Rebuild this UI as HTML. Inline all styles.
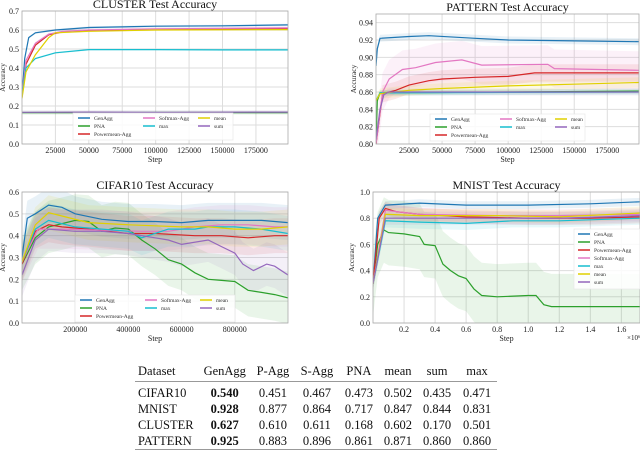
<!DOCTYPE html>
<html><head><meta charset="utf-8"><style>
body{margin:0;width:640px;height:450px;background:#fff;overflow:hidden;font-family:"Liberation Serif",serif}
svg{position:absolute;left:0;top:0;font-family:"Liberation Serif",serif}
svg text{font-family:"Liberation Serif",serif}
table{position:absolute;left:135px;top:362px;border-collapse:collapse;font-size:12.5px;color:#111;font-family:"Liberation Serif",serif}
td,th{font-weight:normal;padding:0 5px;height:16px;text-align:center}
th{height:19px}
td:first-child,th:first-child{text-align:left;padding-left:3px}
thead tr{border-bottom:1.5px solid #999}
tbody tr:first-child td{padding-top:3px}
tbody tr:last-child{border-bottom:1.5px solid #999}
b{font-weight:bold}
</style></head><body>
<svg id="c" width="640" height="450"></svg>
<table>
<thead><tr><th>Dataset</th><th style="width:40px">GenAgg</th><th style="width:34px">P-Agg</th><th style="width:34px">S-Agg</th><th style="width:30px">PNA</th><th style="width:28px">mean</th><th style="width:30px">sum</th><th style="width:30px">max</th></tr></thead>
<tbody>
<tr><td>CIFAR10</td><td><b>0.540</b></td><td>0.451</td><td>0.467</td><td>0.473</td><td>0.502</td><td>0.435</td><td>0.471</td></tr>
<tr><td>MNIST</td><td><b>0.928</b></td><td>0.877</td><td>0.864</td><td>0.717</td><td>0.847</td><td>0.844</td><td>0.831</td></tr>
<tr><td>CLUSTER</td><td><b>0.627</b></td><td>0.610</td><td>0.611</td><td>0.168</td><td>0.602</td><td>0.170</td><td>0.501</td></tr>
<tr><td>PATTERN</td><td><b>0.925</b></td><td>0.883</td><td>0.896</td><td>0.861</td><td>0.871</td><td>0.860</td><td>0.860</td></tr>
</tbody></table>
<script>
const seriesNames=["GenAgg","PNA","Powermean-Agg","Softmax-Agg","max","mean","sum"];
const seriesColors=["#1f77b4","#2ca02c","#d62728","#e377c2","#17becf","#e0d000","#9467bd"];
// CLUSTER (x in thousands of steps)
const clusterGenAgg=[[0,0.25],[2,0.45],[5,0.56],[10,0.585],[25,0.6],[50,0.613],[100,0.62],[150,0.622],[199,0.627]];
const clusterPNA=[[0,0.165],[50,0.165],[100,0.166],[199,0.165]];
const clusterPower=[[0,0.25],[3,0.42],[10,0.52],[20,0.575],[30,0.59],[50,0.597],[100,0.603],[199,0.608]];
const clusterSoft=[[0,0.25],[3,0.44],[10,0.53],[20,0.578],[30,0.592],[50,0.6],[100,0.606],[199,0.611]];
const clusterMax=[[0,0.25],[3,0.4],[10,0.45],[25,0.48],[50,0.497],[100,0.497],[150,0.495],[199,0.495]];
const clusterMean=[[0,0.24],[3,0.38],[10,0.47],[20,0.56],[25,0.585],[50,0.593],[100,0.6],[199,0.602]];
const clusterSum=[[0,0.167],[50,0.168],[100,0.167],[199,0.168]];
const clusterStd=[0.006,0.01,0.006,0.008,0.005,0.005,0.01];
// PATTERN
const patternGenAgg=[[0,0.89],[1,0.91],[3,0.922],[25,0.924],[40,0.925],[75,0.922],[100,0.92],[150,0.919],[199,0.918]];
const patternPNA=[[0,0.8],[1,0.85],[3,0.859],[199,0.861]];
const patternPower=[[0,0.8],[5,0.858],[15,0.862],[25,0.868],[40,0.873],[50,0.875],[75,0.877],[100,0.878],[120,0.882],[150,0.882],[199,0.882]];
const patternSoft=[[0,0.8],[5,0.86],[10,0.875],[20,0.886],[30,0.888],[45,0.894],[65,0.897],[80,0.891],[130,0.892],[135,0.887],[199,0.885]];
const patternMax=[[0,0.85],[3,0.859],[199,0.86]];
const patternMean=[[0,0.85],[3,0.858],[25,0.862],[50,0.864],[100,0.867],[150,0.869],[199,0.871]];
const patternSum=[[0,0.805],[3,0.84],[6,0.857],[10,0.86],[199,0.86]];
const patternStd=[0.004,0.003,0.01,0.022,0.003,0.006,0.004];
// CIFAR10 (x in thousands)
const cifarGenAgg=[[0,0.3],[20,0.48],[50,0.5],[100,0.54],[150,0.53],[200,0.5],[300,0.475],[400,0.465],[500,0.465],[600,0.46],[700,0.47],[800,0.47],[900,0.47],[1000,0.46]];
const cifarPNA=[[0,0.27],[50,0.39],[100,0.44],[200,0.47],[250,0.465],[300,0.42],[350,0.435],[400,0.43],[450,0.38],[500,0.34],[550,0.29],[600,0.27],[650,0.23],[700,0.2],[750,0.195],[800,0.19],[850,0.15],[900,0.14],[950,0.13],[1000,0.115]];
const cifarPower=[[0,0.27],[50,0.42],[100,0.45],[150,0.44],[250,0.43],[400,0.41],[500,0.41],[650,0.4],[750,0.4],[850,0.39],[950,0.4],[1000,0.4]];
const cifarSoft=[[0,0.28],[60,0.43],[150,0.43],[300,0.425],[450,0.42],[550,0.42],[650,0.44],[750,0.45],[850,0.45],[950,0.44],[1000,0.44]];
const cifarMax=[[0,0.28],[50,0.43],[100,0.47],[200,0.44],[300,0.43],[400,0.42],[450,0.39],[550,0.43],[650,0.43],[700,0.44],[800,0.44],[900,0.43],[1000,0.41]];
const cifarMean=[[0,0.28],[50,0.45],[100,0.505],[150,0.49],[250,0.46],[400,0.45],[500,0.445],[600,0.44],[700,0.44],[800,0.43],[900,0.43],[1000,0.44]];
const cifarSum=[[0,0.22],[50,0.38],[100,0.43],[200,0.42],[300,0.42],[400,0.41],[500,0.39],[550,0.38],[600,0.36],[700,0.38],[750,0.35],[800,0.32],[830,0.27],[870,0.24],[920,0.27],[950,0.26],[1000,0.22]];
const cifarStd=[0.08,0.12,0.08,0.09,0.08,0.08,0.1];
// MNIST (x in millions)
const mnistGenAgg=[[0,0.3],[0.03,0.8],[0.08,0.9],[0.3,0.915],[0.6,0.9],[1,0.9],[1.4,0.91],[1.72,0.925]];
const mnistPNA=[[0,0.3],[0.03,0.6],[0.07,0.71],[0.1,0.69],[0.2,0.68],[0.3,0.66],[0.33,0.6],[0.4,0.59],[0.45,0.45],[0.5,0.4],[0.55,0.36],[0.6,0.34],[0.65,0.26],[0.7,0.21],[0.8,0.2],[1,0.21],[1.05,0.21],[1.1,0.14],[1.15,0.125],[1.72,0.125]];
const mnistPower=[[0,0.3],[0.04,0.8],[0.08,0.875],[0.15,0.85],[0.3,0.83],[0.6,0.81],[1,0.8],[1.4,0.8],[1.72,0.81]];
const mnistSoft=[[0,0.3],[0.08,0.86],[0.3,0.83],[0.8,0.82],[1.2,0.82],[1.72,0.83]];
const mnistMax=[[0,0.3],[0.08,0.78],[0.3,0.77],[0.6,0.76],[0.9,0.78],[1.2,0.78],[1.72,0.8]];
const mnistMean=[[0,0.3],[0.08,0.83],[0.3,0.82],[0.8,0.82],[1.2,0.81],[1.72,0.84]];
const mnistSum=[[0,0.3],[0.08,0.8],[0.3,0.8],[0.8,0.8],[1.2,0.8],[1.72,0.82]];
const mnistStd=[0.03,0.25,0.05,0.05,0.05,0.05,0.05];

const svg=document.getElementById('c');const NS="http://www.w3.org/2000/svg";
function mk(t,a,p){const e=document.createElementNS(NS,t);for(const k in a)e.setAttribute(k,a[k]);(p||svg).appendChild(e);return e;}
function chart(o){
  const g=mk('g',{});
  
  
  const X=v=>o.px0+(v-o.xmin)/(o.xmax-o.xmin)*(o.px1-o.px0);
  const Y=v=>o.py1-(v-o.ymin)/(o.ymax-o.ymin)*(o.py1-o.py0);
  const clipId=o.name+'-clip';
  const cp=mk('clipPath',{id:clipId},g);mk('rect',{x:o.px0,y:o.py0,width:o.px1-o.px0,height:o.py1-o.py0},cp);
  mk('rect',{x:o.px0,y:o.py0,width:o.px1-o.px0,height:o.py1-o.py0,fill:'#fff'},g);
  o.xticks.forEach((t,i)=>{const x=X(t);mk('line',{x1:x,x2:x,y1:o.py0,y2:o.py1,stroke:'#ddd','stroke-width':1},g);
    const tx=mk('text',{x:x,y:o.py1+9,'font-size':8,'text-anchor':'middle',fill:'#222'},g);tx.textContent=o.xlabels[i];
    
    });
  o.yticks.forEach((t,i)=>{const y=Y(t);mk('line',{x1:o.px0,x2:o.px1,y1:y,y2:y,stroke:'#ddd','stroke-width':1},g);
    const tx=mk('text',{x:o.px0-3,y:y+3,'font-size':8,'text-anchor':'end',fill:'#222'},g);tx.textContent=o.ylabels[i];
    
    });
  const pg=mk('g',{'clip-path':'url(#'+clipId+')'},g);
  o.series.forEach((s,i)=>{const sd=o.std[i];
    const up=s.map(p=>X(p[0]).toFixed(1)+','+Y(p[1]+sd).toFixed(1));
    const lo=s.slice().reverse().map(p=>X(p[0]).toFixed(1)+','+Y(p[1]-sd).toFixed(1));
    const b=mk('polygon',{points:up.concat(lo).join(' '),fill:seriesColors[i],'fill-opacity':0.1},pg);
    
    });
  o.series.forEach((s,i)=>{const l=mk('polyline',{points:s.map(p=>X(p[0]).toFixed(1)+','+Y(p[1]).toFixed(1)).join(' '),fill:'none',stroke:seriesColors[i],'stroke-width':1.2},pg);
    
    });
  mk('rect',{x:o.px0,y:o.py0,width:o.px1-o.px0,height:o.py1-o.py0,fill:'none',stroke:'#aaa','stroke-width':0.8},g);
  const ti=mk('text',{x:(o.px0+o.px1)/2,y:o.py0-3,'font-size':12,'text-anchor':'middle',fill:'#111'},g);ti.textContent=o.title;
  
  
  const xl=mk('text',{x:(o.px0+o.px1)/2,y:o.py1+18,'font-size':8,'text-anchor':'middle',fill:'#222'},g);xl.textContent='Step';
  
  
  const yl=mk('text',{x:0,y:0,'font-size':7.5,'text-anchor':'middle',fill:'#222',transform:`translate(${o.ylx},${(o.py0+o.py1)/2}) rotate(-90)`},g);yl.textContent='Accuracy';
  
  
  const L=o.legend;const lg=mk('g',{},g);
  
  
  mk('rect',{x:L.x,y:L.y,width:L.w,height:L.h,fill:'#fff','fill-opacity':0.85,stroke:'#e4e4e4','stroke-width':0.6},lg);
  L.pos.forEach((p,i)=>{const ex=L.x+p[0],ey=L.y+p[1];
    mk('line',{x1:ex,x2:ex+12,y1:ey,y2:ey,stroke:seriesColors[i],'stroke-width':1.5},lg);
    const t=mk('text',{x:ex+16,y:ey+2,'font-size':5.5,fill:'#333'},lg);t.textContent=seriesNames[i];
    
    });
  return {X,Y};
}
const leg3=[[5,5],[5,13],[5,21],[70,5],[70,13],[125,5],[125,13]];
chart({name:'cluster-chart',title:'CLUSTER Test Accuracy',px0:22,px1:288,py0:11,py1:144,xmin:0,xmax:199,ymin:0,ymax:0.7,
  xticks:[25,50,75,100,125,150,175],xlabels:['25000','50000','75000','100000','125000','150000','175000'],
  yticks:[0,0.1,0.2,0.3,0.4,0.5,0.6,0.7],ylabels:['0.0','0.1','0.2','0.3','0.4','0.5','0.6','0.7'],ylx:5,
  series:[clusterGenAgg,clusterPNA,clusterPower,clusterSoft,clusterMax,clusterMean,clusterSum],std:clusterStd,
  legend:{x:73,y:113,w:160,h:27,pos:leg3}});
chart({name:'pattern-chart',title:'PATTERN Test Accuracy',px0:376,px1:639,py0:14,py1:144,xmin:0,xmax:199,ymin:0.8,ymax:0.95,
  xticks:[25,50,75,100,125,150,175],xlabels:['25000','50000','75000','100000','125000','150000','175000'],
  yticks:[0.8,0.82,0.84,0.86,0.88,0.9,0.92,0.94],ylabels:['0.80','0.82','0.84','0.86','0.88','0.90','0.92','0.94'],ylx:356,
  series:[patternGenAgg,patternPNA,patternPower,patternSoft,patternMax,patternMean,patternSum],std:patternStd,
  legend:{x:430,y:114,w:155,h:27,pos:leg3}});
chart({name:'cifar10-chart',title:'CIFAR10 Test Accuracy',px0:22,px1:288,py0:192,py1:323,xmin:0,xmax:1000,ymin:0,ymax:0.6,
  xticks:[200,400,600,800],xlabels:['200000','400000','600000','800000'],
  yticks:[0,0.1,0.2,0.3,0.4,0.5,0.6],ylabels:['0.0','0.1','0.2','0.3','0.4','0.5','0.6'],ylx:5,
  series:[cifarGenAgg,cifarPNA,cifarPower,cifarSoft,cifarMax,cifarMean,cifarSum],std:cifarStd,
  legend:{x:75,y:295,w:160,h:27,pos:leg3}});
chart({name:'mnist-chart',title:'MNIST Test Accuracy',px0:373,px1:640,py0:192,py1:323,xmin:0,xmax:1.72,ymin:0,ymax:1,
  xticks:[0.2,0.4,0.6,0.8,1,1.2,1.4,1.6],xlabels:['0.2','0.4','0.6','0.8','1.0','1.2','1.4','1.6'],
  yticks:[0,0.2,0.4,0.6,0.8,1],ylabels:['0.0','0.2','0.4','0.6','0.8','1.0'],ylx:354,
  series:[mnistGenAgg,mnistPNA,mnistPower,mnistSoft,mnistMax,mnistMean,mnistSum],std:mnistStd,
  legend:{x:574,y:229,w:66,h:60,pos:[[4,5],[4,13],[4,21],[4,29],[4,37],[4,45],[4,53]]}});
const ex=mk('text',{x:627,y:340,'font-size':7,fill:'#222'});ex.textContent='×10⁶';


</script>
</body></html>
